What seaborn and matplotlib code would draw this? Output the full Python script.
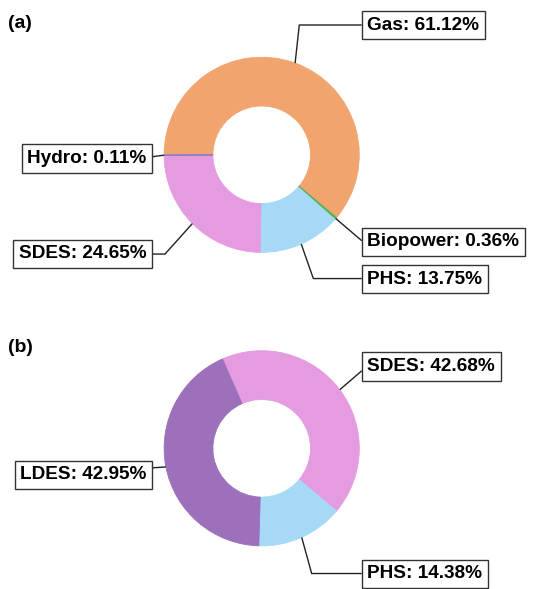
import numpy as np
import matplotlib
matplotlib.use("Agg")
import matplotlib.pyplot as plt
import seaborn as sns

# shares of firm capacity (%) for the two scenarios
labels_a = ["Gas", "Biopower", "PHS", "SDES", "Hydro"]
shares_a = [61.12, 0.36, 13.75, 24.65, 0.11]
colors_a = ["#F1A46E", "#4CAF50", "#A5D9F6", "#E59BE0", "#8A7CC4"]

labels_b = ["SDES", "PHS", "LDES"]
shares_b = [42.68, 14.38, 42.95]
colors_b = ["#E59BE0", "#A5D9F6", "#9C70BA"]

# label placement in units of the outer radius: (elbow point, box edge x, text y)
place_a = {
    "Gas": ((0.385, 1.330), 1.025, 1.327),
    "Biopower": ((1.025, -0.880), 1.025, -0.893),
    "PHS": ((0.529, -1.268), 1.025, -1.273),
    "SDES": ((-0.991, -1.017), -1.121, -1.014),
    "Hydro": ((-1.121, -0.020), -1.121, -0.040),
}
place_b = {
    "SDES": ((1.025, 0.794), 1.025, 0.840),
    "PHS": ((0.512, -1.283), 1.025, -1.285),
    "LDES": ((-1.121, -0.200), -1.121, -0.271),
}

sns.set_theme(style="white")
plt.rcParams["font.family"] = ["Liberation Sans", "DejaVu Sans"]

W, H = 533, 589
fig = plt.figure(figsize=(W / 100, H / 100), dpi=100)
R = 97.6  # outer radius in pixels


def donut(cx, cy, labels, shares, colors, start, place):
    ax = fig.add_axes([(cx - R) / W, 1 - (cy + R) / H, 2 * R / W, 2 * R / H])
    wedges, _ = ax.pie(
        shares,
        colors=colors,
        startangle=start,
        counterclock=False,
        wedgeprops=dict(width=0.5, linewidth=0.6),
    )
    for w, c in zip(wedges, colors):
        w.set_edgecolor(c)
    ax.set_xlim(-1, 1)
    ax.set_ylim(-1, 1)
    ax.set_aspect("equal")
    ax.axis("off")

    for w, lab, val in zip(wedges, labels, shares):
        (ex, ey), bx, ty = place[lab]
        mid = np.deg2rad((w.theta1 + w.theta2) / 2)
        sx, sy = np.cos(mid), np.sin(mid)
        ax.plot([sx, ex, bx], [sy, ey, ey], color="#222222", lw=1,
                clip_on=False, solid_capstyle="butt")
        right = bx > 0
        off = 0.058 if right else -0.058
        ax.text(bx + off, ty, f"{lab}: {val:.2f}%", ha="left" if right else "right",
                va="center", fontsize=13.7, fontweight="bold", color="black",
                bbox=dict(boxstyle="square,pad=0.3", fc="white", ec="#333333", lw=1),
                clip_on=False)
    return ax


donut(261.7, 154.8, labels_a, shares_a, colors_a, 180, place_a)
donut(261.7, 448.3, labels_b, shares_b, colors_b, 113.7, place_b)

fig.text(8 / W, 1 - 24 / H, "(a)", fontsize=14, fontweight="bold", va="center", color="black")
fig.text(8 / W, 1 - 348 / H, "(b)", fontsize=14, fontweight="bold", va="center", color="black")

fig.savefig("out.png", dpi=100)
